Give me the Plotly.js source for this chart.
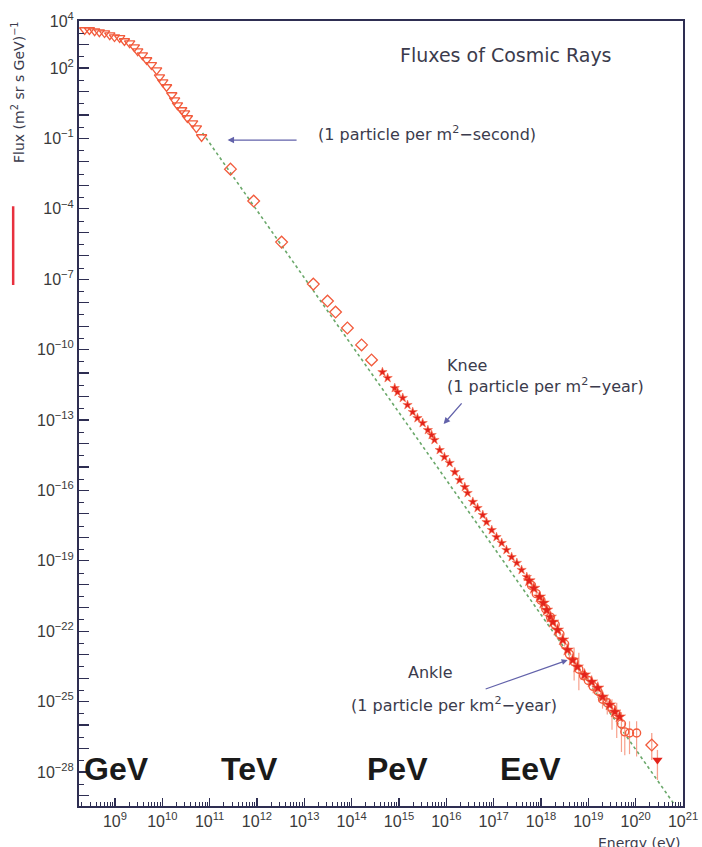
<!DOCTYPE html>
<html>
<head>
<meta charset="utf-8">
<script src="https://cdn.plot.ly/plotly-3.0.1.min.js"></script>
<style>html,body{margin:0;padding:0;background:#fff;}#chart{width:702px;height:847px;}</style>
</head>
<body>
<div id="chart"></div>
<script>
// All values are log10(Energy / eV) and log10(Flux / (m^2 sr s GeV)^-1)
const lineLogE = [10.85, 20.84];
const lineLogF = [-0.77, -29.45];

const triLogE = [8.36,8.46,8.57,8.67,8.78,8.89,8.99,9.10,9.20,9.31,9.41,9.48,9.58,9.67,9.77,9.88,9.94,10.01,10.09,10.20,10.26,10.32,10.41,10.47,10.53,10.64,10.72,10.83];
const triLogF = [3.62,3.62,3.57,3.53,3.49,3.40,3.32,3.28,3.15,3.06,2.89,2.72,2.55,2.34,2.13,1.91,1.61,1.40,1.19,0.85,0.63,0.42,0.21,0.08,-0.13,-0.35,-0.56,-0.94];

const diaLogE = [11.44,11.93,12.52,13.19,13.49,13.66,13.91,14.21,14.42];
const diaLogF = [-2.31,-3.67,-5.42,-7.21,-7.93,-8.40,-9.08,-9.80,-10.44];

const kneeLogE = [14.65,14.76,14.91,14.97,15.08,15.18,15.29,15.39,15.50,15.61,15.69,15.75,15.86,15.96,16.07,16.18,16.28,16.39,16.45,16.56,16.66,16.77,16.85,16.96,17.06,17.17,17.27,17.38,17.49,17.59,17.70];
const kneeLogF = [-10.96,-11.21,-11.64,-11.81,-12.06,-12.36,-12.66,-12.92,-13.13,-13.43,-13.64,-13.85,-14.28,-14.58,-14.83,-15.22,-15.56,-15.86,-16.11,-16.49,-16.75,-17.05,-17.35,-17.69,-17.99,-18.24,-18.54,-18.84,-19.09,-19.39,-19.69];

const ankALogE = [17.75,17.85,17.97,18.05,18.12,18.20,18.25,18.35,18.46,18.56,18.67,18.77,18.92,19.07,19.20,19.30,19.45,19.56,19.66];
const ankALogF = [-19.85,-20.17,-20.54,-20.80,-21.10,-21.40,-21.61,-21.95,-22.37,-22.80,-23.23,-23.52,-23.86,-24.16,-24.42,-24.80,-25.14,-25.44,-25.65];

const ankBLogE = [17.80,17.90,18.00,18.10,18.20,18.30,18.40,18.50,18.60,18.70,18.80,18.90,19.00,19.10,19.20,19.30,19.40,19.50,19.60,19.70,19.77,19.87,20.02];
const ankBLogF = [-20.05,-20.40,-20.68,-21.05,-21.40,-21.72,-22.12,-22.55,-22.98,-23.30,-23.62,-23.90,-24.10,-24.35,-24.55,-24.90,-25.05,-25.30,-25.55,-25.95,-26.29,-26.34,-26.34];
const ankBErrUp = [0.05,0.05,0.05,0.05,0.05,0.10,0.10,0.10,0.15,0.60,0.70,0.20,0.20,0.20,0.25,0.30,0.30,0.40,0.50,0.50,0.40,0.50,0.50];
const ankBErrDn = [0.05,0.05,0.05,0.05,0.05,0.10,0.10,0.10,0.15,0.80,0.90,0.20,0.20,0.30,0.30,0.40,0.50,0.90,1.00,1.20,1.00,0.90,1.00];

const topDiaLogE = [20.34];
const topDiaLogF = [-26.85];
const topDiaErrUp = [0.51];
const topDiaErrDn = [0.64];

const topTriLogE = [20.46];
const topTriLogF = [-27.49];
const topTriErrUp = [0.43];
const topTriErrDn = [0.85];

const xTickExp = [9,10,11,12,13,14,15,16,17,18,19,20,21];
const yTickExp = [4,2,-1,-4,-7,-10,-13,-16,-19,-22,-25,-28];

const scaleNames = ['GeV','TeV','PeV','EeV'];
const scaleLogE = [9.03,11.85,14.97,17.78];

const p10 = a => a.map(v => Math.pow(10, v));
function errs(logF, up, dn) {
  return {
    plus: logF.map((v,i) => Math.pow(10, v + up[i]) - Math.pow(10, v)),
    minus: logF.map((v,i) => Math.pow(10, v) - Math.pow(10, v - dn[i]))
  };
}

const eB = errs(ankBLogF, ankBErrUp, ankBErrDn);
const eD = errs(topDiaLogF, topDiaErrUp, topDiaErrDn);
const eT = errs(topTriLogF, topTriErrUp, topTriErrDn);

const openCol = '#f25b3c';
const redCol = '#e3231b';
const errCol = '#f7a08c';

const traces = [
  {x:p10(lineLogE), y:p10(lineLogF), mode:'lines', line:{color:'#6aa86a', width:1.6, dash:'dot'}, hoverinfo:'skip'},
  {x:p10(triLogE), y:p10(triLogF), mode:'markers', marker:{symbol:'triangle-down-open', size:9, color:openCol, line:{width:1.3}}},
  {x:p10(diaLogE), y:p10(diaLogF), mode:'markers', marker:{symbol:'diamond-open', size:9, color:openCol, line:{width:1.3}}},
  {x:p10(kneeLogE), y:p10(kneeLogF), mode:'markers', marker:{symbol:'star', size:7, color:redCol, line:{width:0.6, color:'#f57050'}}},
  {x:p10(ankBLogE), y:p10(ankBLogF), mode:'markers', marker:{symbol:'circle-open', size:8, color:openCol, line:{width:1.4}},
   error_y:{type:'data', symmetric:false, array:eB.plus, arrayminus:eB.minus, color:errCol, thickness:1.2, width:0}},
  {x:p10(ankALogE), y:p10(ankALogF), mode:'markers', marker:{symbol:'star', size:9, color:redCol, line:{width:0.6, color:'#f57050'}}},
  {x:p10(topDiaLogE), y:p10(topDiaLogF), mode:'markers', marker:{symbol:'diamond-open', size:9, color:openCol, line:{width:1.3}},
   error_y:{type:'data', symmetric:false, array:eD.plus, arrayminus:eD.minus, color:errCol, thickness:1.3, width:0}},
  {x:p10(topTriLogE), y:p10(topTriLogF), mode:'markers', marker:{symbol:'triangle-down', size:9, color:redCol},
   error_y:{type:'data', symmetric:false, array:eT.plus, arrayminus:eT.minus, color:errCol, thickness:1.3, width:0}}
];

const sup = n => '10<sup>' + (n < 0 ? '\u2212' + (-n) : n) + '</sup>';

// minor tick positions (axis decoration)
const xMinor = [];
for (let d = 8; d <= 20; d++) for (let m = 2; m <= 9; m++) xMinor.push(m * Math.pow(10, d));
const yMajor = [], yMajorText = [], yMinor = [];
for (let d = 4; d >= -29; d--) {
  yMajor.push(Math.pow(10, d));
  yMajorText.push(yTickExp.includes(d) ? sup(d) : '');
  yMinor.push(3 * Math.pow(10, d));
}

const axCol = '#2e2e52';
const txtFont = {family:'DejaVu Sans, sans-serif', size:16, color:'#3b3b4c'};
const arrowCol = '#6262aa';

const annotations = [
  {xref:'x', yref:'y', x:14.97, y:2.55, text:'Fluxes of Cosmic Rays', showarrow:false, xanchor:'left', yanchor:'middle',
   font:{family:'DejaVu Sans, sans-serif', size:19, color:'#3b3b4c'}},
  {xref:'x', yref:'y', x:13.238, y:-0.772, text:'(1 particle per m<sup>2</sup>\u2212second)', showarrow:false, xanchor:'left', yanchor:'middle', font:txtFont},
  {xref:'x', yref:'y', x:11.379, y:-1.07, text:' ', showarrow:true, axref:'pixel', ayref:'pixel', ax:72, ay:0,
   arrowhead:2, arrowsize:1, arrowwidth:1.3, arrowcolor:arrowCol},
  {xref:'x', yref:'y', x:15.964, y:-11.126, text:'Knee<br>(1 particle per m<sup>2</sup>\u2212year)', showarrow:false, xanchor:'left', yanchor:'middle', align:'left', font:txtFont},
  {xref:'x', yref:'y', x:15.943, y:-13.171, text:' ', showarrow:true, ax:21, ay:-24,
   arrowhead:2, arrowsize:1, arrowwidth:1.3, arrowcolor:arrowCol},
  {xref:'x', yref:'y', x:15.14, y:-23.74, text:'Ankle', showarrow:false, xanchor:'left', yanchor:'middle', font:txtFont},
  {xref:'x', yref:'y', x:13.934, y:-25.14, text:'(1 particle per km<sup>2</sup>\u2212year)', showarrow:false, xanchor:'left', yanchor:'middle', font:txtFont},
  {xref:'x', yref:'y', x:18.563, y:-23.23, text:' ', showarrow:true, ax:-85, ay:30,
   arrowhead:2, arrowsize:1, arrowwidth:1.2, arrowcolor:arrowCol},
  {xref:'paper', yref:'paper', x:-0.101, y:0.9096, text:'Flux (m<sup>2</sup> sr s GeV)<sup>\u22121</sup>', showarrow:false, textangle:-90,
   xanchor:'center', yanchor:'middle', font:{family:'DejaVu Sans, sans-serif', size:14, color:'#3b3b4c'}},
  {xref:'paper', yref:'paper', x:1, y:-0.047, text:'Energy (eV)', showarrow:false, xanchor:'right', yanchor:'middle',
   font:{family:'DejaVu Sans, sans-serif', size:14, color:'#3b3b4c'}}
];
scaleNames.forEach((n, i) => annotations.push({
  xref:'x', yref:'y', x:scaleLogE[i], y:-27.87, text:'<b>' + n + '</b>', showarrow:false,
  xanchor:'center', yanchor:'middle', font:{family:'Liberation Sans, Arial, sans-serif', size:32, color:'#1a1a1a'}
}));

const layout = {
  width:702, height:847,
  margin:{l:79, r:19, t:21, b:41},
  paper_bgcolor:'#ffffff', plot_bgcolor:'#ffffff',
  showlegend:false,
  xaxis:{
    type:'log', range:[8.24, 21], showgrid:false, zeroline:false,
    showline:true, mirror:true, linecolor:axCol, linewidth:2,
    ticks:'inside', ticklen:8, tickwidth:1.2, tickcolor:axCol,
    tickmode:'array', tickvals:p10(xTickExp), ticktext:xTickExp.map(sup),
    tickfont:{family:'Liberation Sans, Arial, sans-serif', size:16, color:'#3a3a3a'},
    minor:{tickmode:'array', tickvals:xMinor, ticks:'inside', ticklen:4, tickwidth:1, tickcolor:axCol, showgrid:false}
  },
  yaxis:{
    type:'log', range:[-29.45, 4.003], showgrid:false, zeroline:false,
    showline:true, mirror:true, linecolor:axCol, linewidth:2,
    ticks:'inside', ticklen:10, tickwidth:1.2, tickcolor:axCol,
    tickmode:'array', tickvals:yMajor, ticktext:yMajorText,
    tickfont:{family:'Liberation Sans, Arial, sans-serif', size:16, color:'#3a3a3a'},
    minor:{tickmode:'array', tickvals:yMinor, ticks:'inside', ticklen:5, tickwidth:1, tickcolor:axCol, showgrid:false}
  },
  annotations:annotations,
  shapes:[
    {type:'line', xref:'paper', yref:'paper', x0:-0.109, x1:-0.109, y0:0.764, y1:0.6637, line:{color:'#e8303e', width:2.5}}
  ]
};

Plotly.newPlot('chart', traces, layout, {displayModeBar:false, staticPlot:true});
</script>
</body>
</html>
